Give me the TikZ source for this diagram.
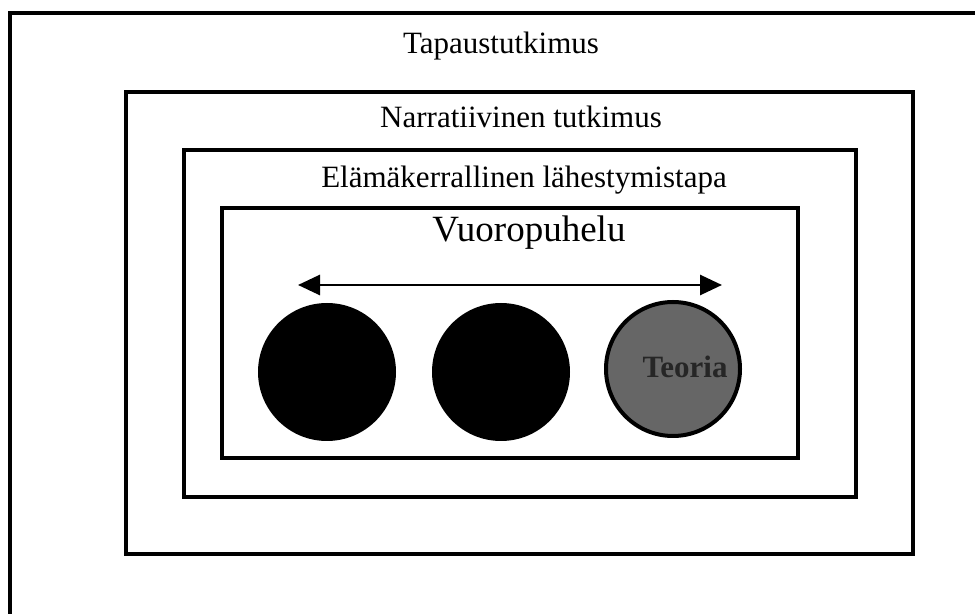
\documentclass[tikz,border=0pt]{standalone}
\usepackage{fontspec}
\setmainfont{Liberation Serif}
\usetikzlibrary{arrows.meta}
\begin{document}
\begin{tikzpicture}[x=0.5pt,y=-0.5pt,
    kehys/.style={line width=1.6pt},
    otsikko/.style={font=\fontsize{15.5}{18}\selectfont,inner sep=0pt,anchor=base},
    pallo/.style={circle,fill=black,minimum size=69pt,inner sep=0pt}]
      \clip (0,0) rectangle (975,614);
      \fill [white] (0,0) rectangle (975,614);
      \draw [kehys] (10,13) rectangle (1000,640);
      \draw [kehys] (126,92) rectangle (913,554);
      \draw [kehys] (184,150) rectangle (856,497);
      \draw [kehys] (222,208) rectangle (798,458);
      \node [otsikko] (tapaus) at (501,54) {Tapaustutkimus};
      \node [otsikko] (narr) at (521,128) {Narratiivinen tutkimus};
      \node [otsikko] (elama) at (524,188) {Elämäkerrallinen lähestymistapa};
      \node [otsikko,font=\fontsize{18.5}{22}\selectfont] (vuoro) at (529,242) {Vuoropuhelu};
      \coordinate (vasen) at (298,285);
      \coordinate (oikea) at (722,285);
      \draw [line width=1.4pt,{Triangle[length=11pt,width=10pt]}-{Triangle[length=11pt,width=10pt]}] (vasen) to (oikea);
      \foreach \x/\nimi in {327/pallo1,501/pallo2}
      \node [pallo] (\nimi) at (\x,372) {};
      \node [pallo,fill=black!60,draw=black,line width=2pt,minimum size=67pt] (pallo3) at (673,369) {};
      \node [font=\bfseries\fontsize{15.5}{18}\selectfont,text=black!85,inner sep=0pt,anchor=base] (teoria) at (685,378) {Teoria};
    \end{tikzpicture}
\end{document}
